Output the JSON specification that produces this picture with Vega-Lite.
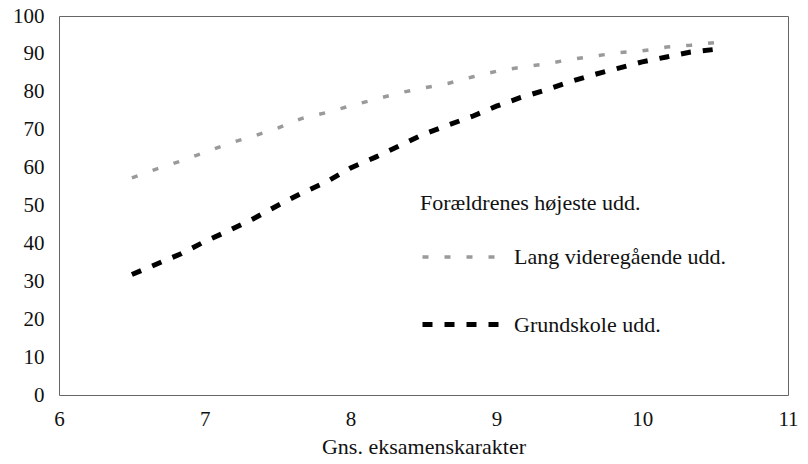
{
  "$schema": "https://vega.github.io/schema/vega-lite/v6.json",
  "autosize": {"type": "none"},
  "width": 729,
  "height": 379,
  "padding": {"left": 59, "top": 16, "right": 20, "bottom": 69},
  "background": "white",
  "config": {
    "view": {"stroke": "#666", "strokeWidth": 1},
    "font": "Liberation Serif",
    "axis": {"grid": false, "ticks": false, "domain": false, "labelFont": "Liberation Serif", "labelFontSize": 21, "labelColor": "#111", "titleFont": "Liberation Serif", "titleFontSize": 22, "titleFontWeight": "normal", "titleColor": "#111"},
    "legend": {"orient": "none", "legendX": 361, "legendY": 177, "titleFont": "Liberation Serif", "titleFontSize": 22, "titleFontWeight": "normal", "titleColor": "#111", "titlePadding": 0, "titleLimit": 0, "labelLimit": 0, "labelFont": "Liberation Serif", "labelFontSize": 22, "labelColor": "#111", "labelOffset": 9, "symbolType": "stroke", "symbolSize": 6400, "rowPadding": 14}
  },
  "data": {
    "values": [
      {"x": 6.5, "y": 57.3, "s": "Lang videregående udd."},
      {"x": 6.667, "y": 59.6, "s": "Lang videregående udd."},
      {"x": 6.833, "y": 61.7, "s": "Lang videregående udd."},
      {"x": 7.0, "y": 64.0, "s": "Lang videregående udd."},
      {"x": 7.167, "y": 66.4, "s": "Lang videregående udd."},
      {"x": 7.333, "y": 68.3, "s": "Lang videregående udd."},
      {"x": 7.5, "y": 70.4, "s": "Lang videregående udd."},
      {"x": 7.667, "y": 73.0, "s": "Lang videregående udd."},
      {"x": 7.833, "y": 74.5, "s": "Lang videregående udd."},
      {"x": 8.0, "y": 76.3, "s": "Lang videregående udd."},
      {"x": 8.167, "y": 78.0, "s": "Lang videregående udd."},
      {"x": 8.333, "y": 79.7, "s": "Lang videregående udd."},
      {"x": 8.5, "y": 81.0, "s": "Lang videregående udd."},
      {"x": 8.667, "y": 82.2, "s": "Lang videregående udd."},
      {"x": 8.833, "y": 83.9, "s": "Lang videregående udd."},
      {"x": 9.0, "y": 85.4, "s": "Lang videregående udd."},
      {"x": 9.167, "y": 86.5, "s": "Lang videregående udd."},
      {"x": 9.333, "y": 87.3, "s": "Lang videregående udd."},
      {"x": 9.5, "y": 88.5, "s": "Lang videregående udd."},
      {"x": 9.667, "y": 89.4, "s": "Lang videregående udd."},
      {"x": 9.833, "y": 90.3, "s": "Lang videregående udd."},
      {"x": 10.0, "y": 90.8, "s": "Lang videregående udd."},
      {"x": 10.167, "y": 91.8, "s": "Lang videregående udd."},
      {"x": 10.333, "y": 92.3, "s": "Lang videregående udd."},
      {"x": 10.5, "y": 93.0, "s": "Lang videregående udd."},
      {"x": 6.5, "y": 31.8, "s": "Grundskole udd."},
      {"x": 6.667, "y": 34.5, "s": "Grundskole udd."},
      {"x": 6.833, "y": 37.2, "s": "Grundskole udd."},
      {"x": 7.0, "y": 40.5, "s": "Grundskole udd."},
      {"x": 7.167, "y": 43.4, "s": "Grundskole udd."},
      {"x": 7.333, "y": 46.5, "s": "Grundskole udd."},
      {"x": 7.5, "y": 50.0, "s": "Grundskole udd."},
      {"x": 7.667, "y": 53.3, "s": "Grundskole udd."},
      {"x": 7.833, "y": 56.2, "s": "Grundskole udd."},
      {"x": 8.0, "y": 59.9, "s": "Grundskole udd."},
      {"x": 8.167, "y": 62.7, "s": "Grundskole udd."},
      {"x": 8.333, "y": 65.7, "s": "Grundskole udd."},
      {"x": 8.5, "y": 68.8, "s": "Grundskole udd."},
      {"x": 8.667, "y": 71.2, "s": "Grundskole udd."},
      {"x": 8.833, "y": 73.5, "s": "Grundskole udd."},
      {"x": 9.0, "y": 76.2, "s": "Grundskole udd."},
      {"x": 9.167, "y": 78.5, "s": "Grundskole udd."},
      {"x": 9.333, "y": 80.4, "s": "Grundskole udd."},
      {"x": 9.5, "y": 82.6, "s": "Grundskole udd."},
      {"x": 9.667, "y": 84.5, "s": "Grundskole udd."},
      {"x": 9.833, "y": 86.2, "s": "Grundskole udd."},
      {"x": 10.0, "y": 87.9, "s": "Grundskole udd."},
      {"x": 10.167, "y": 89.2, "s": "Grundskole udd."},
      {"x": 10.333, "y": 90.5, "s": "Grundskole udd."},
      {"x": 10.5, "y": 91.2, "s": "Grundskole udd."}
    ]
  },
  "mark": {"type": "line", "strokeCap": "butt"},
  "encoding": {
    "x": {"field": "x", "type": "quantitative", "scale": {"domain": [6, 11], "nice": false}, "axis": {"values": [6, 7, 8, 9, 10, 11], "labelPadding": 13, "titlePadding": 7, "title": "Gns. eksamenskarakter", "labelFlush": false}},
    "y": {"field": "y", "type": "quantitative", "scale": {"domain": [0, 100], "nice": false}, "axis": {"values": [0, 10, 20, 30, 40, 50, 60, 70, 80, 90, 100], "labelPadding": 15, "title": null}},
    "color": {"field": "s", "type": "ordinal", "scale": {"domain": ["Lang videregående udd.", "Grundskole udd."], "range": ["#9a9a9a", "#000000"]}, "legend": {"title": "Forældrenes højeste udd."}},
    "strokeDash": {"field": "s", "type": "ordinal", "scale": {"domain": ["Lang videregående udd.", "Grundskole udd."], "range": [[6, 16], [10, 12]]}, "legend": {"title": "Forældrenes højeste udd."}},
    "strokeWidth": {"field": "s", "type": "ordinal", "scale": {"domain": ["Lang videregående udd.", "Grundskole udd."], "range": [3.5, 5]}, "legend": {"title": "Forældrenes højeste udd."}}
  }
}
